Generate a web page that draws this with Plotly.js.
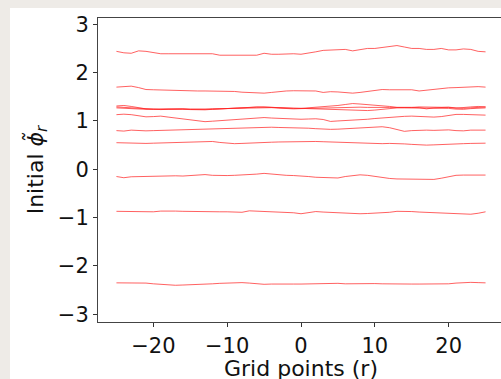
<!DOCTYPE html>
<html>
<head>
<meta charset="utf-8">
<script src="https://cdn.plot.ly/plotly-3.0.1.min.js"></script>
<style>
  html, body { margin: 0; padding: 0; width: 501px; height: 379px; overflow: hidden;
    background: #eeebe7; }
  #chart { position: absolute; left: 10px; top: 8px; width: 500px; height: 373px; background: #ffffff; }
</style>
</head>
<body>
<div id="chart"></div>
<script>
// Grid points (r)
const gridPoints = [-25,-24,-23,-22,-21,-20,-19,-18,-17,-16,-15,-14,-13,-12,-11,-10,-9,-8,-7,-6,-5,-4,-3,-2,-1,0,1,2,3,4,5,6,7,8,9,10,11,12,13,14,15,16,17,18,19,20,21,22,23,24,25];

// Initial phi~_r profiles (one array per curve)
const phiA = [2.44,2.41,2.40,2.45,2.44,2.41,2.39,2.39,2.39,2.39,2.39,2.40,2.40,2.39,2.36,2.36,2.37,2.37,2.37,2.36,2.40,2.38,2.38,2.39,2.39,2.38,2.40,2.43,2.46,2.47,2.48,2.48,2.45,2.48,2.50,2.50,2.52,2.54,2.56,2.53,2.50,2.50,2.48,2.48,2.50,2.47,2.47,2.49,2.48,2.44,2.43];
const phiB = [1.70,1.71,1.72,1.69,1.65,1.645,1.64,1.63,1.62,1.62,1.62,1.62,1.62,1.62,1.625,1.625,1.61,1.595,1.59,1.58,1.575,1.59,1.61,1.62,1.625,1.62,1.63,1.62,1.59,1.605,1.60,1.58,1.575,1.59,1.61,1.625,1.65,1.645,1.65,1.65,1.645,1.62,1.64,1.66,1.675,1.685,1.69,1.70,1.705,1.71,1.70];
const phiC1 = [1.31,1.32,1.30,1.27,1.25,1.24,1.245,1.25,1.25,1.25,1.245,1.24,1.24,1.245,1.25,1.26,1.27,1.28,1.29,1.285,1.29,1.28,1.27,1.265,1.26,1.26,1.27,1.28,1.29,1.30,1.32,1.34,1.36,1.35,1.34,1.33,1.32,1.30,1.28,1.275,1.28,1.29,1.29,1.285,1.29,1.28,1.265,1.27,1.29,1.30,1.29];
const phiC2 = [1.27,1.26,1.25,1.245,1.24,1.245,1.25,1.255,1.26,1.25,1.24,1.235,1.24,1.25,1.255,1.26,1.265,1.265,1.26,1.27,1.28,1.275,1.265,1.255,1.25,1.255,1.26,1.265,1.27,1.275,1.28,1.28,1.28,1.285,1.28,1.275,1.275,1.28,1.28,1.285,1.28,1.275,1.25,1.27,1.28,1.285,1.27,1.26,1.27,1.28,1.29];
const phiC3 = [1.29,1.28,1.26,1.25,1.245,1.24,1.235,1.24,1.245,1.24,1.235,1.23,1.23,1.24,1.245,1.25,1.26,1.27,1.28,1.29,1.285,1.27,1.26,1.26,1.255,1.25,1.25,1.25,1.245,1.24,1.23,1.225,1.22,1.21,1.215,1.225,1.24,1.26,1.27,1.27,1.27,1.265,1.265,1.265,1.26,1.26,1.245,1.24,1.255,1.265,1.27];
const phiD = [1.13,1.14,1.13,1.115,1.085,1.09,1.10,1.08,1.06,1.045,1.03,1.01,0.985,0.995,1.005,1.015,1.02,1.03,1.04,1.05,1.07,1.06,1.05,1.04,1.035,1.035,1.04,1.045,1.03,0.99,1.0,1.005,1.01,1.02,1.035,1.05,1.065,1.075,1.09,1.095,1.10,1.09,1.085,1.08,1.09,1.11,1.135,1.135,1.13,1.125,1.12];
const phiE = [0.80,0.79,0.81,0.80,0.795,0.80,0.805,0.81,0.815,0.82,0.825,0.835,0.84,0.84,0.845,0.85,0.855,0.855,0.86,0.86,0.865,0.87,0.865,0.865,0.86,0.86,0.85,0.84,0.83,0.826,0.83,0.84,0.855,0.865,0.87,0.875,0.88,0.86,0.82,0.785,0.80,0.81,0.81,0.805,0.81,0.815,0.80,0.795,0.81,0.815,0.81];
const phiF = [0.55,0.545,0.535,0.535,0.535,0.54,0.545,0.55,0.555,0.565,0.57,0.58,0.585,0.575,0.555,0.54,0.53,0.535,0.545,0.55,0.555,0.56,0.565,0.57,0.575,0.58,0.58,0.575,0.57,0.565,0.56,0.55,0.54,0.53,0.525,0.525,0.53,0.535,0.535,0.525,0.515,0.505,0.50,0.505,0.515,0.52,0.525,0.53,0.535,0.54,0.54];
const phiG = [-0.15,-0.175,-0.155,-0.15,-0.15,-0.14,-0.13,-0.13,-0.135,-0.14,-0.13,-0.12,-0.11,-0.125,-0.135,-0.13,-0.125,-0.12,-0.11,-0.10,-0.085,-0.10,-0.12,-0.125,-0.13,-0.135,-0.15,-0.165,-0.175,-0.185,-0.18,-0.15,-0.125,-0.115,-0.125,-0.15,-0.175,-0.19,-0.20,-0.205,-0.21,-0.215,-0.22,-0.21,-0.185,-0.15,-0.125,-0.12,-0.12,-0.12,-0.12];
const phiH = [-0.87,-0.875,-0.88,-0.885,-0.89,-0.88,-0.865,-0.86,-0.865,-0.87,-0.875,-0.875,-0.88,-0.88,-0.88,-0.88,-0.885,-0.89,-0.86,-0.865,-0.87,-0.87,-0.875,-0.88,-0.90,-0.92,-0.90,-0.875,-0.885,-0.895,-0.905,-0.915,-0.92,-0.92,-0.915,-0.91,-0.91,-0.89,-0.87,-0.865,-0.875,-0.885,-0.89,-0.89,-0.90,-0.905,-0.91,-0.92,-0.93,-0.91,-0.88];
const phiI = [-2.35,-2.35,-2.345,-2.345,-2.355,-2.37,-2.385,-2.395,-2.40,-2.395,-2.385,-2.375,-2.375,-2.37,-2.36,-2.35,-2.345,-2.345,-2.355,-2.375,-2.38,-2.375,-2.37,-2.37,-2.375,-2.375,-2.37,-2.365,-2.36,-2.355,-2.36,-2.37,-2.365,-2.36,-2.36,-2.365,-2.37,-2.375,-2.38,-2.38,-2.375,-2.375,-2.375,-2.375,-2.37,-2.37,-2.355,-2.345,-2.34,-2.345,-2.35];

const xTickVals = [-20,-10,0,10,20];
const yTickVals = [-3,-2,-1,0,1,2,3];

const series = [phiA, phiB, phiC1, phiC2, phiC3, phiD, phiE, phiF, phiG, phiH, phiI];

const traces = series.map(s => ({
  x: gridPoints, y: s, type: 'scatter', mode: 'lines',
  line: {color: 'rgba(255,30,30,0.7)', width: 1},
  hoverinfo: 'skip', showlegend: false
}));

const font = {family: 'DejaVu Sans, sans-serif', size: 21, color: '#111111'};

const layout = {
  width: 500, height: 373,
  margin: {l: 87.7, r: 6.4, t: 10, b: 59.3},
  paper_bgcolor: '#ffffff', plot_bgcolor: '#ffffff',
  showlegend: false,
  font: font,
  xaxis: {
    range: [-27.5, 27.5], tickvals: xTickVals, ticks: 'outside', ticklen: 4, tickwidth: 1,
    tickcolor: '#333333', showline: true, linecolor: '#444444', linewidth: 1, mirror: true,
    showgrid: false, zeroline: false, tickfont: font, ticklabelstandoff: 1,
    title: {text: 'Grid points (r)', font: {family: 'DejaVu Sans, sans-serif', size: 22, color: '#111111'}, standoff: 6}
  },
  yaxis: {
    range: [-3.16, 3.13], tickvals: yTickVals, ticks: 'outside', ticklen: 4, tickwidth: 1,
    tickcolor: '#333333', showline: true, linecolor: '#444444', linewidth: 1, mirror: true,
    showgrid: false, zeroline: false, tickfont: font,
    title: {text: 'Initial <i>\u03D5\u0303</i><sub><i>r</i></sub>', font: {family: 'DejaVu Sans, sans-serif', size: 22, color: '#111111'}, standoff: 8}
  }
};

Plotly.newPlot('chart', traces, layout, {displayModeBar: false, staticPlot: true});
</script>
</body>
</html>
